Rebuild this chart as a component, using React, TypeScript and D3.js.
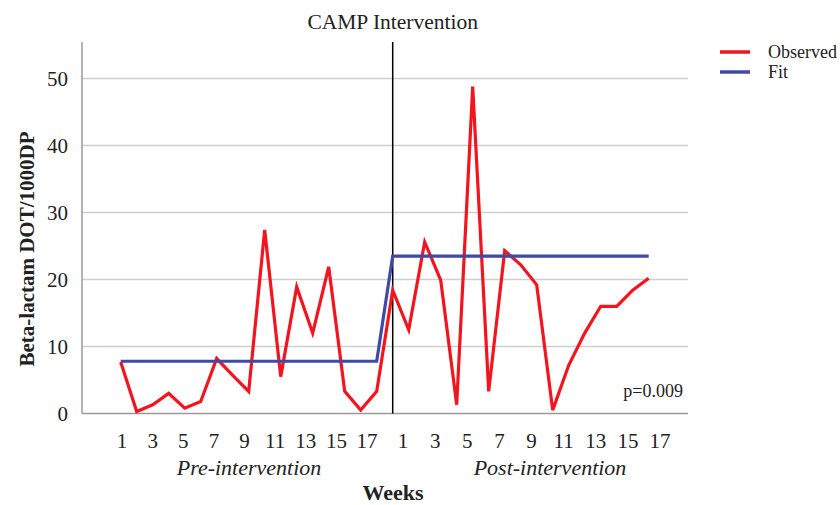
import React from "react";
import * as d3 from "d3";

const preWeeks = d3.range(1, 18);
const postWeeks = d3.range(1, 18);
const preObserved = [7.7, 0.3, 1.3, 3.0, 0.8, 1.8, 8.2, 5.7, 3.3, 27.4, 5.5, 18.9, 12.0, 21.9, 3.3, 0.5, 3.3];
const postObserved = [18.4, 12.5, 25.6, 19.9, 1.3, 48.8, 3.3, 24.3, 22.2, 19.2, 0.5, 7.2, 12.0, 16.0, 16.0, 18.4, 20.2];
const preFit = 7.8;
const postFit = 23.5;
const yTicks = [0, 10, 20, 30, 40, 50];
const tickWeeks = ["1", "3", "5", "7", "9", "11", "13", "15", "17"];
const legendItems = [
  { label: "Observed", color: "#f2141e" },
  { label: "Fit", color: "#3e4aa6" },
];

const W = 840;
const H = 505;
const RED = "#f2141e";
const BLUE = "#3e4aa6";
const SERIF = "'Liberation Serif', 'DejaVu Serif', serif";

export default function App() {
  const n = preWeeks.length + postWeeks.length;
  const x = d3.scaleLinear().domain([0, n - 1]).range([120.7, 648.7]);
  const y = d3.scaleLinear().domain([0, 50]).range([413.5, 78.5]);
  const left = 82;
  const right = 688;
  const top = 42;

  // label rows under the axis (as typed in the original figure)
  const preLabel = d3.scalePoint<string>().domain(tickWeeks).range([122, 367]);
  const postLabel = d3.scalePoint<string>().domain(tickWeeks).range([403, 660]);

  const observed = [...preObserved, ...postObserved].map((v, i) => ({ i, v }));
  const fit = [
    ...preWeeks.map((_, i) => ({ i, v: preFit })),
    ...postWeeks.map((_, i) => ({ i: i + preWeeks.length, v: postFit })),
  ];
  const line = d3
    .line<{ i: number; v: number }>()
    .x((d) => x(d.i))
    .y((d) => y(d.v));

  const interventionX = x(preWeeks.length);

  const tickItems = [
    ...tickWeeks.map((w) => ({ label: w, pos: preLabel(w) as number })),
    ...tickWeeks.map((w) => ({ label: w, pos: postLabel(w) as number })),
  ];

  return (
    <svg
      width={W}
      height={H}
      style={{ position: "absolute", left: 0, top: 0, background: "#fff" }}
      fontFamily={SERIF}
    >
      <rect width={W} height={H} fill="#fff" />
      {yTicks.filter((t) => t > 0).map((t) => (
        <line key={t} x1={left} x2={right} y1={y(t)} y2={y(t)} stroke="#cfcfcf" strokeWidth={1.5} />
      ))}
      <line x1={left} x2={right} y1={y(0)} y2={y(0)} stroke="#9a9a9a" strokeWidth={1.5} />
      <line x1={left} x2={left} y1={top} y2={y(0)} stroke="#9a9a9a" strokeWidth={1.5} />
      {yTicks.map((t) => (
        <text key={t} x={68} y={y(t)} dy="0.35em" textAnchor="end" fontSize={21} fill="#222">
          {t}
        </text>
      ))}
      <line x1={interventionX} x2={interventionX} y1={top} y2={y(0)} stroke="#000" strokeWidth={1.5} />
      <path d={line(observed) || ""} fill="none" stroke={RED} strokeWidth={3.2} strokeLinejoin="miter" />
      <path d={line(fit) || ""} fill="none" stroke={BLUE} strokeWidth={3.2} />
      {tickItems.map((t, k) => (
        <text key={k} x={t.pos} y={448} textAnchor="middle" fontSize={21} fill="#222">
          {t.label}
        </text>
      ))}
      <text x={249} y={475} textAnchor="middle" fontSize={22} fontStyle="italic" fill="#222">
        Pre-intervention
      </text>
      <text x={550} y={475} textAnchor="middle" fontSize={22} fontStyle="italic" fill="#222">
        Post-intervention
      </text>
      <text x={393} y={500} textAnchor="middle" fontSize={22} fontWeight="bold" fill="#222">
        Weeks
      </text>
      <text
        transform={`translate(27,${249}) rotate(-90)`}
        textAnchor="middle"
        dy="0.35em"
        fontSize={21}
        fontWeight="bold"
        fill="#222"
      >
        Beta-lactam DOT/1000DP
      </text>
      <text x={interventionX} y={29} textAnchor="middle" fontSize={21.5} fill="#222">
        CAMP Intervention
      </text>
      <text x={683} y={397} textAnchor="end" fontSize={18} fill="#222">
        p=0.009
      </text>
      {legendItems.map((d, k) => (
        <g key={d.label} transform={`translate(0,${52 + k * 20})`}>
          <line x1={720} x2={750} y1={0} y2={0} stroke={d.color} strokeWidth={3.5} />
          <text x={768} y={0} dy="0.35em" fontSize={18} fill="#222">
            {d.label}
          </text>
        </g>
      ))}
    </svg>
  );
}
